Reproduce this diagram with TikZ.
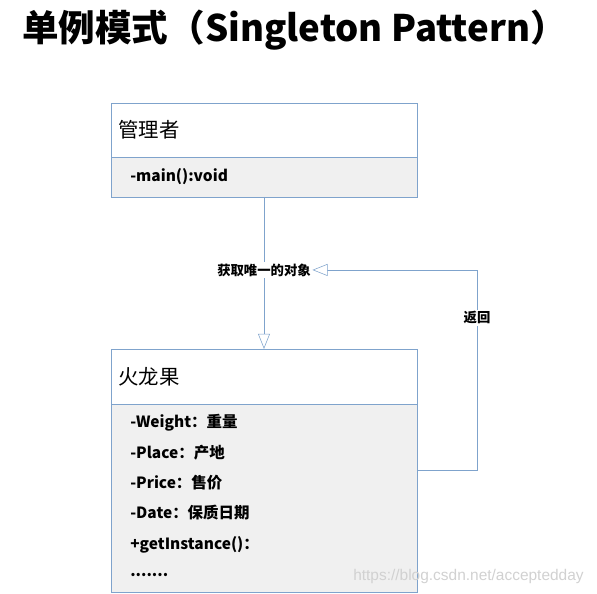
\documentclass[tikz,border=0pt]{standalone}
\usepackage{fontspec}
\setmainfont{Noto Sans CJK SC}
\newfontfamily\wmfont{Liberation Sans}
\usetikzlibrary{arrows.meta,positioning}

\definecolor{umlline}{HTML}{7FA3CC}
\definecolor{umlfill}{HTML}{F0F0F0}

\tikzset{
    head/.style={draw=umlline, rectangle, minimum width=7.65cm, outer sep=0pt, inner sep=0pt},
    body/.style={head, fill=umlfill},
    member/.style={anchor=west, font=\fontsize{11}{13}\selectfont\bfseries, inner sep=0pt},
    title/.style={anchor=west, font=\fontsize{14.5}{17}\selectfont, inner sep=0pt},
    link/.style={draw=umlline, -{Triangle[open, length=0.38cm, width=0.3cm, fill=white]}},
    lbl/.style={fill=white, inner sep=1pt, font=\fontsize{9.5}{11}\selectfont\bfseries}
}

\begin{document}
\begin{tikzpicture}
    \useasboundingbox (0,0) rectangle (14.925,14.85);

    % heading
    \node[anchor=west, inner sep=0pt, font=\fontsize{26}{30}\selectfont\bfseries] (heading) at (0.55,14.1) {单例模式（Singleton Pattern）};

    % 管理者
    \node[head, minimum height=1.35cm] (mgrhead) at (6.6,11.6) {};
    \node[body, minimum height=1cm, below=0pt of mgrhead] (mgrbody) {};
    \node[title] (mgrname) at ([xshift=0.175cm]mgrhead.west) {管理者};
    \node[member] (mgrmain) at ([xshift=0.475cm]mgrbody.west) {-main():void};

    % 火龙果
    \node[head, minimum height=1.375cm] (fruithead) at (6.6,5.4375) {};
    \node[body, minimum height=4.7cm, below=0pt of fruithead] (fruitbody) {};
    \node[title] (fruitname) at ([xshift=0.175cm]fruithead.west) {火龙果};
    \foreach \y/\txt in {4.275/{-Weight：重量}, 3.525/{-Place：产地}, 2.775/{-Price：售价},
                         2.025/{-Date：保质日期}, 1.225/{+getInstance()：}, 0.475/{.......}}
        \node[member] at (3.25,\y) {\txt};

    % connectors
    \draw[link] (mgrbody) -- node[lbl, pos=0.48] (getlbl) {获取唯一的对象} (fruithead);
    \draw[link] (fruitbody.east |- 0,3.1) -- (11.925,3.1) |- node[lbl, pos=0.38] (retlbl) {返回} (getlbl.east);

    % watermark
    \node[anchor=west, inner sep=0pt, text=black!18, font=\wmfont\fontsize{11}{13}\selectfont] (mark) at (8.825,0.425) {https://blog.csdn.net/acceptedday};
\end{tikzpicture}
\end{document}
